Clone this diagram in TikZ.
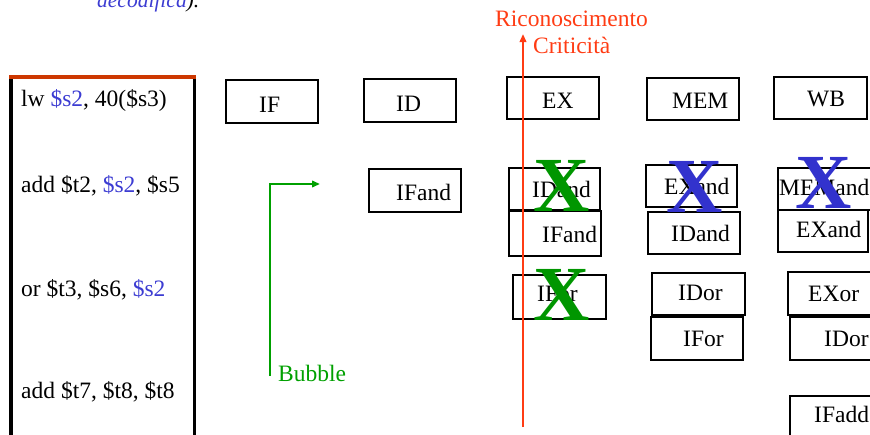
\documentclass[tikz,border=0pt]{standalone}
\usepackage{fontspec}
\setmainfont{Liberation Serif}
\usetikzlibrary{fit,arrows.meta}
\definecolor{instblue}{RGB}{60,60,210}
\definecolor{critred}{RGB}{255,60,20}
\definecolor{topred}{RGB}{205,55,0}
\definecolor{bubgreen}{RGB}{0,160,0}
\definecolor{xgreen}{RGB}{0,150,0}
\definecolor{xblue}{RGB}{50,50,205}
\newcommand\stagebox[8]{%
  \node[stbox, fit={(#2,#3) (#4,#5)}] (#1) {};
  \node[lbl, anchor=base west] (#1t) at (#6,#7) {#8};}
\begin{document}
\begin{tikzpicture}[x=1pt,y=-1pt,
  stbox/.style={draw=black, line width=2.9pt, inner sep=0pt},
  lbl/.style={inner sep=0pt, font=\fontsize{23.5}{28}\selectfont},
  bigx/.style={inner sep=0pt, anchor=base, font=\fontsize{78}{80}\selectfont\bfseries},
  vline/.style={line width=2.4pt}]
\useasboundingbox (0,0) rectangle (870,434);
\clip (0,0) rectangle (870,434);
% top text
\node[inner sep=0pt, anchor=base west, font=\fontsize{21.5}{24}\selectfont\itshape] (top) at (97,7) {\textcolor{instblue}{decodifica}).};
% instruction column
\coordinate (tl) at (9,77); \coordinate (tr) at (196,77);
\coordinate (lt) at (11,79); \coordinate (lb) at (11,440);
\coordinate (rt) at (194.5,79); \coordinate (rbt) at (194.5,440);
\draw[topred, line width=3.5pt] (tl) -- (tr);
\draw[black, line width=4pt] (lt) -- (lb);
\draw[black, line width=2.8pt] (rt) -- (rbt);
\node[lbl, anchor=base west] (i1) at (21,106) {lw \textcolor{instblue}{\$s2}, 40(\$s3)};
\node[lbl, anchor=base west] (i2) at (21,192) {add \$t2, \textcolor{instblue}{\$s2}, \$s5};
\node[lbl, anchor=base west] (i3) at (21,296) {or \$t3, \$s6, \textcolor{instblue}{\$s2}};
\node[lbl, anchor=base west] (i4) at (21,398) {add \$t7, \$t8, \$t8};
% row 1
\stagebox{bIF}{226}{80}{318}{123}{259}{112}{IF}
\stagebox{bID}{364}{79}{456}{122}{396}{111}{ID}
\stagebox{bEX}{507}{77}{599}{119}{542}{108}{EX}
\stagebox{bMEM}{647}{78}{739}{120}{672}{108}{MEM}
\stagebox{bWB}{774}{77}{867}{119}{807}{106}{WB}
% row 2
\stagebox{bIFand}{369}{169}{461}{212}{396}{200}{IFand}
\stagebox{bIDand}{509}{168}{600}{210}{532}{197}{IDand}
\stagebox{bIFand2}{509}{211}{601}{256}{542}{242}{IFand}
\stagebox{bEXand}{646}{165}{737}{207}{664}{194}{EXand}
\stagebox{bIDand2}{648}{212}{740}{254}{671}{241}{IDand}
\stagebox{bMEMand}{778}{168}{880}{210}{779}{195}{MEMand}
\stagebox{bEXand2}{778}{210}{868}{252}{796}{237}{EXand}
% row 3
\stagebox{bIFor}{513}{275}{606}{319}{537}{301}{IFor}
\stagebox{bIDor}{652}{273}{745}{315}{678}{300}{IDor}
\stagebox{bIFor2}{651}{317}{743}{360}{683}{346}{IFor}
\stagebox{bEXor}{788}{272}{880}{315}{808}{301}{EXor}
\stagebox{bIDor2}{790}{317}{880}{360}{824}{346}{IDor}
% row 4
\stagebox{bIFadd}{790}{396}{880}{445}{814}{422}{IFadd}
% critical line
\coordinate (cb) at (523,427); \coordinate (ct) at (523,34);
\draw[critred, vline, -{Triangle[length=8pt,width=6.5pt]}] (cb) -- (ct);
\node[inner sep=0pt, anchor=base west, text=critred, font=\fontsize{23.5}{28}\selectfont] (ric) at (495,26) {Riconoscimento};
\node[inner sep=0pt, anchor=base west, text=critred, font=\fontsize{23.5}{28}\selectfont] (cri) at (533,53) {Criticità};
% bubble
\coordinate (gb) at (270,376); \coordinate (ge) at (320,184);
\draw[bubgreen, vline, -{Triangle[length=8pt,width=6.5pt]}] (gb) |- (ge);
\node[inner sep=0pt, anchor=base west, text=bubgreen, font=\fontsize{23.5}{28}\selectfont] (bub) at (278,381) {Bubble};
% crosses
\node[bigx, text=xgreen] (x1) at (561.5,211) {X};
\node[bigx, text=xgreen] (x2) at (562,320) {X};
\node[bigx, text=xblue] (x3) at (695,212) {X};
\node[bigx, text=xblue] (x4) at (824,208) {X};
\end{tikzpicture}
\end{document}
